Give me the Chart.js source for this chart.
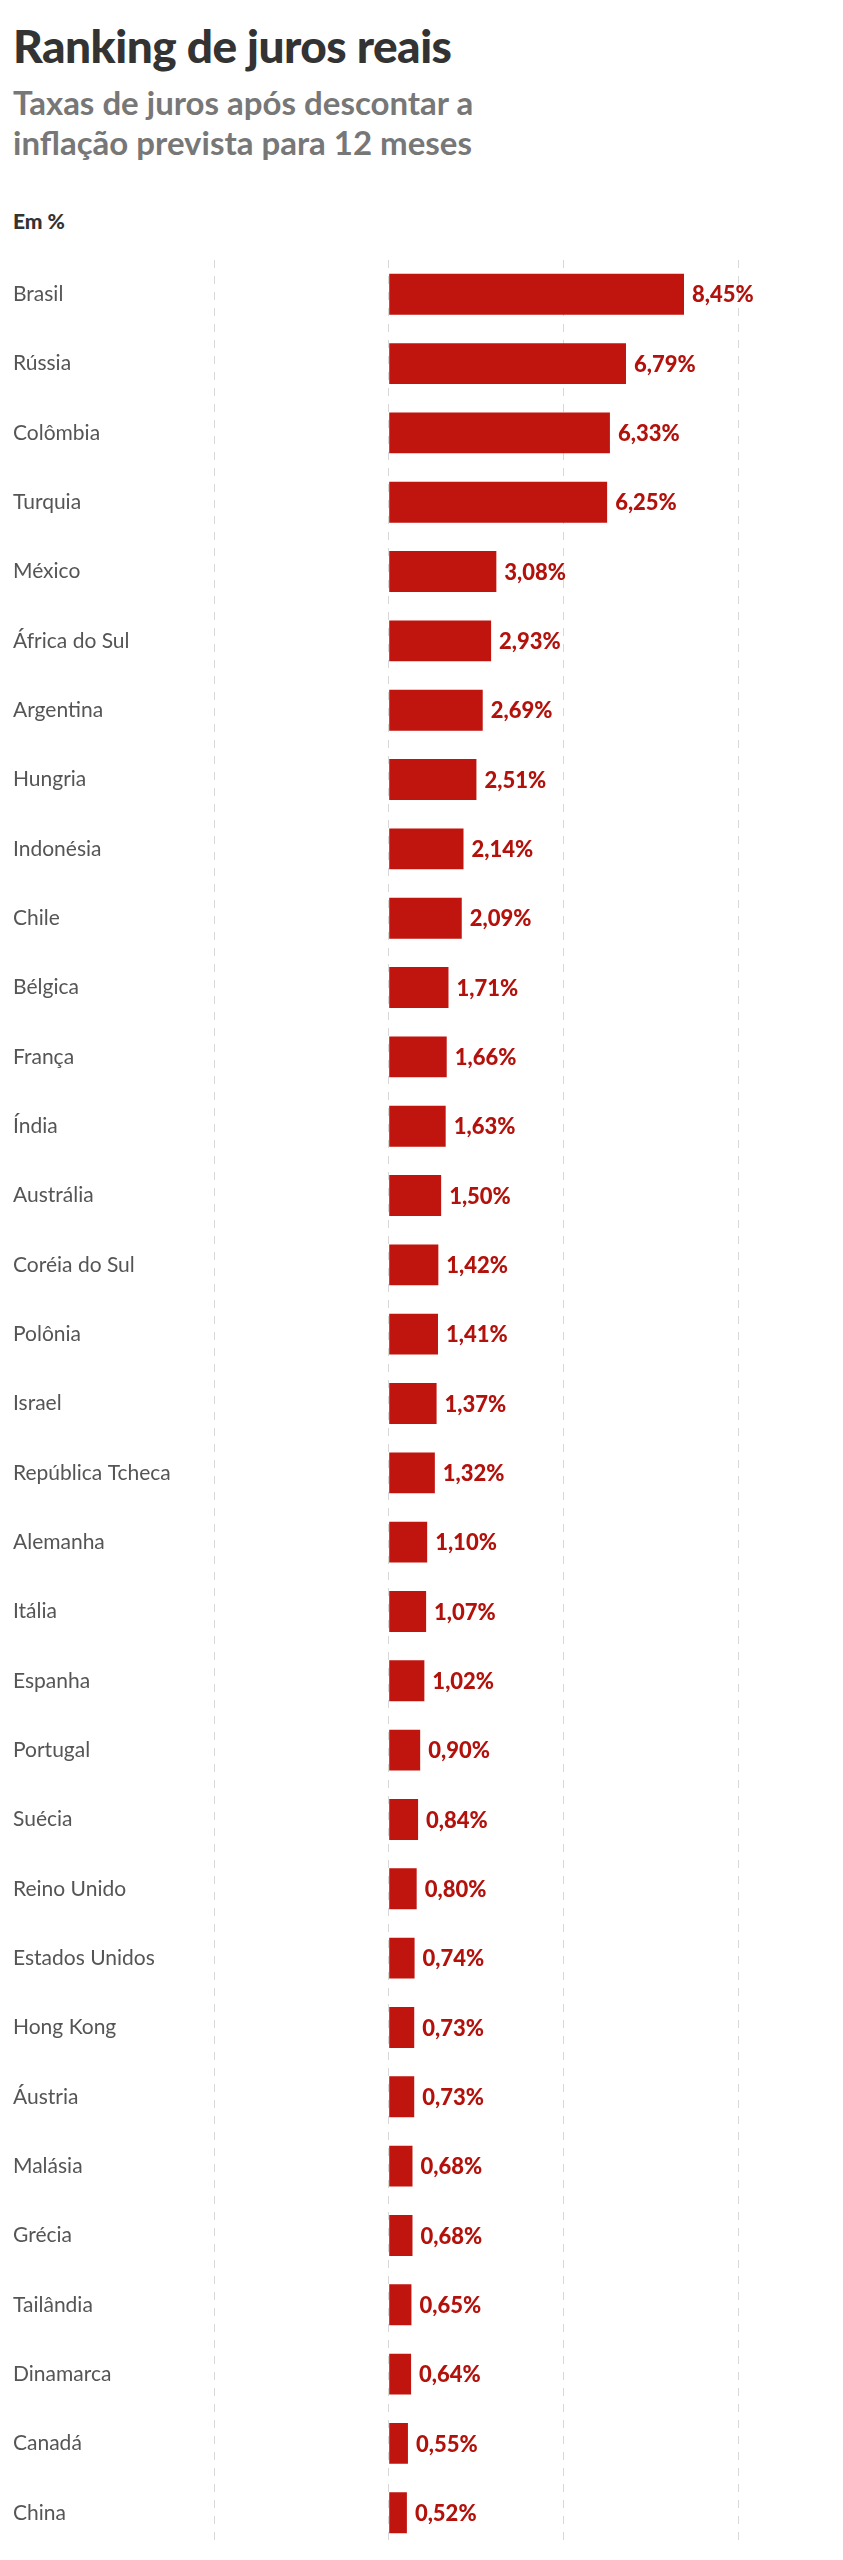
<!DOCTYPE html>
<html><head><meta charset="utf-8">
<script src="https://cdn.jsdelivr.net/npm/chart.js@4"></script>
<style>
body{margin:0;background:#fff;width:843px;height:2560px;position:relative;font-family:Lato,"Open Sans",sans-serif;overflow:hidden}
h1{position:absolute;left:13px;top:18px;margin:0;font:900 46px Lato;color:#333;letter-spacing:-0.5px}
h2{position:absolute;left:13px;top:82px;margin:0;font:700 33px/40px Lato;color:#777}
.unit{position:absolute;left:13px;top:208px;font:900 21px Lato;color:#333}
#wrap{position:absolute;left:0;top:247px;width:843px;height:2313px}
</style></head><body>
<h1>Ranking de juros reais</h1>
<h2>Taxas de juros após descontar a<br>inflação prevista para 12 meses</h2>
<div class="unit">Em %</div>
<div id="wrap"><canvas id="c"></canvas></div>
<script>
const countries=["Brasil","Rússia","Colômbia","Turquia","México","África do Sul","Argentina","Hungria","Indonésia","Chile","Bélgica","França","Índia","Austrália","Coréia do Sul","Polônia","Israel","República Tcheca","Alemanha","Itália","Espanha","Portugal","Suécia","Reino Unido","Estados Unidos","Hong Kong","Áustria","Malásia","Grécia","Tailândia","Dinamarca","Canadá","China"];
const rates=[8.45,6.79,6.33,6.25,3.08,2.93,2.69,2.51,2.14,2.09,1.71,1.66,1.63,1.50,1.42,1.41,1.37,1.32,1.10,1.07,1.02,0.90,0.84,0.80,0.74,0.73,0.73,0.68,0.68,0.65,0.64,0.55,0.52];
const gridTicks=[-5,0,5,10];
const valLabels={id:'vl',afterDatasetsDraw(ch){const c=ch.ctx;c.save();c.font='900 22px Lato';c.fillStyle='#b3120c';c.textBaseline='middle';
ch.getDatasetMeta(0).data.forEach((b,i)=>{c.fillText(rates[i].toFixed(2).replace('.',',')+'%',b.x+8,b.y+1);});c.restore();}};
new Chart(document.getElementById('c'),{type:'bar',
data:{labels:countries,datasets:[{data:rates,backgroundColor:'#c0150f',barPercentage:0.59,categoryPercentage:1}]},
options:{indexAxis:'y',responsive:true,maintainAspectRatio:false,animation:false,
layout:{padding:{left:13,right:0,top:0,bottom:0}},
plugins:{legend:{display:false},tooltip:{enabled:false}},
scales:{
x:{min:-5,max:13,position:'top',afterBuildTicks(a){a.ticks=gridTicks.map(v=>({value:v}));},
ticks:{display:false},border:{display:false},grid:{color:'#d8d8d8',lineWidth:1,drawTicks:false,tickLength:0},border:{display:false,dash:[8,8]}},
y:{afterFit(a){a.width=201;},grid:{display:false},border:{display:false},
ticks:{crossAlign:'far',padding:0,color:'#555',font:{family:'Lato',size:21}}}
}},plugins:[valLabels]});
</script></body></html>
